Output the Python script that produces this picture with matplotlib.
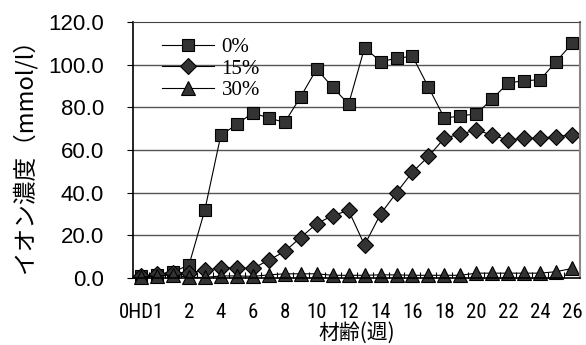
import numpy as np
import matplotlib.pyplot as plt
from matplotlib import font_manager

# sampling points: 0h, 1 day, then weeks 1..26
ages = ["0H", "1D"] + [str(w) for w in range(1, 27)]
tick_labels = ["0HD1", "", "", "2"] + [str(w) if w % 2 == 0 else "" for w in range(3, 27)]

conc_0 = [1.0, 1.5, 3.0, 6.0, 32.0, 67.0, 72.0, 77.5, 75.0, 73.0, 85.0, 98.0, 89.5, 81.5,
          108.0, 101.5, 103.0, 104.0, 89.5, 75.0, 76.0, 77.0, 84.0, 91.5, 92.5, 93.0, 101.5, 110.0]
conc_15 = [1.0, 1.8, 2.5, 2.5, 3.7, 4.7, 4.7, 4.5, 8.4, 12.5, 19.0, 25.5, 29.3, 31.7,
           15.5, 30.0, 40.0, 49.7, 57.0, 65.6, 67.5, 69.4, 67.0, 64.7, 65.6, 65.6, 66.3, 67.2]
conc_30 = [0.5, 1.0, 1.5, 0.3, 0.3, 1.0, 1.0, 0.8, 1.5, 2.0, 2.0, 2.0, 1.3, 1.3,
           1.3, 1.5, 1.5, 1.3, 1.3, 1.3, 1.3, 2.3, 2.3, 2.3, 2.3, 2.3, 3.0, 4.5]

# narrow font for the crowded category labels, if there is one
installed = set(font_manager.get_font_names())
narrow = next((f for f in ['Liberation Sans Narrow', 'DejaVu Sans Condensed',
                           'Roboto Condensed', 'Open Sans Condensed']
               if f in installed), 'Liberation Sans')

x = np.arange(len(ages))

fig = plt.figure(figsize=(5.86, 3.45), dpi=100)
ax = fig.add_axes([0.227, 0.194, 0.763, 0.742])

# markers near zero hang over the axis line, so no clipping
style = dict(color='black', lw=0.8, markerfacecolor='#333333',
             markeredgecolor='black', markeredgewidth=0.8, clip_on=False)
ax.plot(x, conc_0, marker='s', markersize=8.0, label='0%', **style)
ax.plot(x, conc_15, marker='D', markersize=8.0, label='15%', **style)
ax.plot(x, conc_30, marker='^', markersize=10.5, label='30%', **style)

ax.set_xlim(-0.5, len(ages) - 0.5)
ax.set_ylim(0, 120)
ax.set_yticks(np.arange(0, 121, 20))
ax.set_yticklabels([f"{v:.1f}" for v in range(0, 121, 20)],
                   family='Liberation Sans', fontsize=16)
ax.set_xticks(x)
ax.set_xticklabels(tick_labels, family=narrow, fontsize=15)
ax.set_xticks(x[:-1] + 0.5, minor=True)
ax.tick_params(axis='x', which='major', length=0, pad=18)
ax.tick_params(axis='x', which='minor', direction='in', length=4, width=0.8)
ax.tick_params(axis='y', direction='out', length=4, width=0.8, pad=17)

for v in range(20, 120, 20):
    ax.axhline(v, color='#555555', lw=1.0, zorder=0)

ax.spines['left'].set_linewidth(1.2)
ax.spines['bottom'].set_linewidth(1.2)
ax.spines['top'].set_color('#444444')
ax.spines['right'].set_color('#888888')
ax.spines['right'].set_linewidth(1.5)

ax.set_ylabel("イオン濃度（mmol/l）", family=['Noto Sans CJK JP'], fontsize=17, labelpad=8)
ax.set_xlabel("材齢(週)", family=['Noto Sans CJK JP'], fontsize=15, labelpad=0)

ax.legend(loc='upper left', bbox_to_anchor=(0.065, 0.94), frameon=False,
          prop={'family': 'Liberation Serif', 'size': 15}, handlelength=2.5,
          labelspacing=0.1, handletextpad=0.35, borderpad=0, borderaxespad=0)

fig.savefig('out.png', dpi=100)
